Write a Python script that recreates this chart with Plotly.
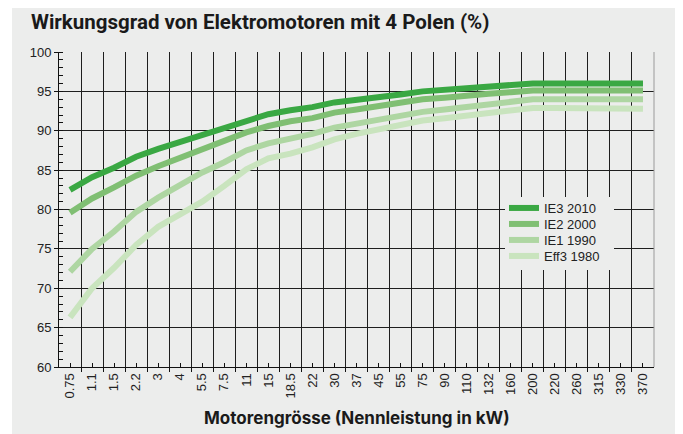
import plotly.graph_objects as go

categories = ["0.75", "1.1", "1.5", "2.2", "3", "4", "5.5", "7.5", "11", "15", "18.5", "22",
              "30", "37", "45", "55", "75", "90", "110", "132", "160", "200", "220", "260",
              "315", "330", "370"]

ie3_2010 = [82.5, 84.1, 85.3, 86.7, 87.7, 88.6, 89.6, 90.4, 91.4, 92.1, 92.6, 93.0, 93.6, 93.9,
            94.2, 94.6, 95.0, 95.2, 95.4, 95.6, 95.8, 96.0, 96.0, 96.0, 96.0, 96.0, 96.0]
ie2_2000 = [79.6, 81.4, 82.8, 84.3, 85.5, 86.6, 87.7, 88.7, 89.8, 90.6, 91.2, 91.6, 92.3, 92.7,
            93.1, 93.5, 94.0, 94.2, 94.5, 94.7, 94.9, 95.1, 95.1, 95.1, 95.1, 95.1, 95.1]
ie1_1990 = [72.1, 75.0, 77.2, 79.7, 81.5, 83.1, 84.7, 86.0, 87.5, 88.4, 89.0, 89.6, 90.4, 90.9,
            91.4, 91.8, 92.4, 92.7, 93.0, 93.3, 93.6, 94.0, 94.0, 94.0, 94.0, 94.0, 94.0]
eff3_1980 = [66.3, 70.0, 72.6, 75.5, 77.8, 79.5, 81.0, 83.0, 85.1, 86.5, 87.1, 87.9, 88.9, 89.6,
             90.2, 90.7, 91.3, 91.6, 91.9, 92.3, 92.6, 92.9, 92.9, 92.9, 92.9, 92.9, 92.8]

series = [
    ("IE3 2010", ie3_2010, "#3aa843"),
    ("IE2 2000", ie2_2000, "#80bf73"),
    ("IE1 1990", ie1_1990, "#aed6a2"),
    ("Eff3 1980", eff3_1980, "#c9e4be"),
]

xpos = list(range(len(categories)))
BG = "#ecedec"
GRID = "#1e1e1e"
TICKFONT = dict(family="Liberation Sans, Arial, sans-serif", size=13, color="#222")
LEGFONT = dict(family="Liberation Sans, Arial, sans-serif", size=13, color="#222")

# page has an 8px body margin: the figure is placed at (8, 8)
OFF = 8
W, H = 683 - OFF, 434 - OFF
L, R, T, B = 51, 29, 44, 67
pw, ph = W - L - R, H - T - B


def px_x(page_x):
    return (page_x - OFF - L) / pw


def px_y(page_y):
    return (H - B - (page_y - OFF)) / ph


legend_rows = [208, 224, 240, 256]
legend_names = ["legend", "legend2", "legend3", "legend4"]

fig = go.Figure()
for (name, vals, col), lg in zip(series, legend_names):
    fig.add_trace(go.Scatter(x=xpos, y=vals, name=name, mode="lines",
                             line=dict(color=col, width=6), legend=lg))

legend_layout = {}
for lg, row in zip(legend_names, legend_rows):
    legend_layout[lg] = dict(
        x=px_x(504), y=px_y(row), xanchor="left", yanchor="middle",
        bgcolor="rgba(0,0,0,0)", borderwidth=0, font=LEGFONT, itemwidth=30,
    )

fig.update_layout(
    width=W, height=H,
    margin=dict(l=L, r=R, t=T, b=B, pad=0),
    paper_bgcolor="white",
    plot_bgcolor=BG,
    showlegend=True,
    title=dict(
        text="<b>Wirkungsgrad von Elektromotoren mit 4 Polen (%)</b>",
        font=dict(family="Roboto, Inter, sans-serif", size=20.5, color="#1a1a1a"),
        x=(31 - OFF) / W, xanchor="left", xref="container",
        y=1 - (22 - OFF) / H, yanchor="middle", yref="container",
    ),
    xaxis=dict(
        range=[-0.5, len(categories) - 0.5],
        tickmode="array", tickvals=xpos, ticktext=categories,
        tickangle=-90, ticks="inside", ticklen=4, tickcolor="#111", tickwidth=1,
        showgrid=False, zeroline=False,
        showline=True, linecolor="#111", linewidth=1,
        tickfont=TICKFONT,
        minor=dict(tickmode="array", tickvals=[i + 0.5 for i in xpos[:-1]],
                   ticks="outside", ticklen=4, tickcolor="#111",
                   showgrid=True, gridcolor=GRID, gridwidth=1),
    ),
    yaxis=dict(
        range=[60, 100], tickmode="linear", tick0=60, dtick=5,
        ticks="outside", ticklen=4, tickcolor="#111",
        showgrid=True, gridcolor=GRID, gridwidth=1, zeroline=False,
        showline=True, linecolor="#111", linewidth=1,
        tickfont=TICKFONT,
        minor=dict(dtick=1, tick0=60, ticks="inside", ticklen=4, tickcolor="#111",
                   showgrid=False),
    ),
    shapes=[
        dict(type="rect", xref="paper", yref="paper", layer="below",
             x0=(4 - L) / pw, x1=(W - L) / pw + 0.01,
             y0=-(B) / ph - 0.01, y1=1 + (T + 1) / ph,
             fillcolor=BG, line=dict(width=0)),
        dict(type="line", xref="paper", yref="paper", x0=1, x1=1, y0=0, y1=1,
             line=dict(color="#9a9a9a", width=1)),
        # legend background box (covers gridlines like the reference)
        dict(type="rect", xref="paper", yref="paper", layer="above",
             x0=px_x(505), x1=px_x(614), y0=px_y(270), y1=px_y(197),
             fillcolor=BG, line=dict(width=0)),
    ],
    annotations=[
        dict(text="<b>Motorengrösse (Nennleistung in kW)</b>", xref="paper", yref="paper",
             x=0.5, y=px_y(418), xanchor="center", yanchor="middle",
             showarrow=False,
             font=dict(family="Inter, Roboto, sans-serif", size=17, color="#1a1a1a")),
    ],
    **legend_layout,
)

fig.write_html("out.html")
